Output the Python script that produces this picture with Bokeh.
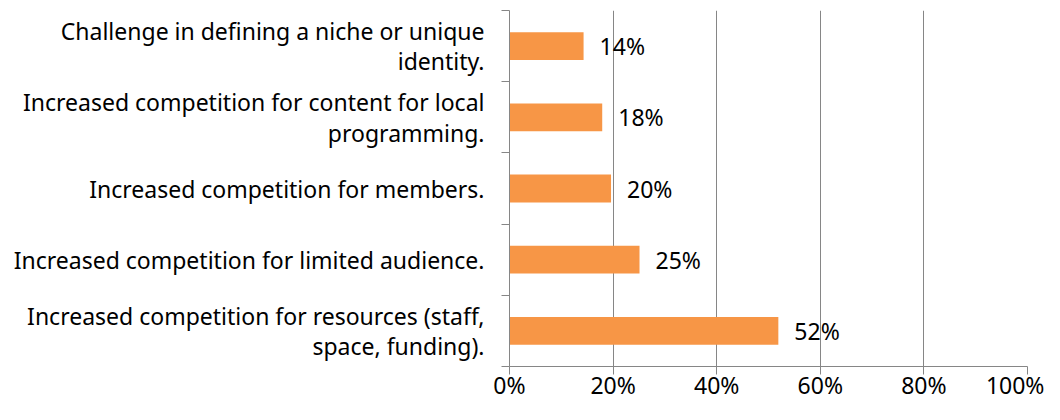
from bokeh.plotting import figure
from bokeh.models import Range1d, FixedTicker, PrintfTickFormatter, ColumnDataSource
from bokeh.core.properties import value
from bokeh.embed import file_html
from bokeh.resources import INLINE

# Data (bottom to top)
categories = [
    "Increased competition for resources (staff,\nspace, funding).",
    "Increased competition for limited audience.",
    "Increased competition for members.",
    "Increased competition for content for local\nprogramming.",
    "Challenge in defining a niche or unique\nidentity.",
]
values = [51.9, 25.1, 19.6, 17.9, 14.3]
value_labels = ["52%", "25%", "20%", "18%", "14%"]
x_ticks = [0, 20, 40, 60, 80, 100]

FONT = "Noto Sans"
GRAY = "#868686"
BAR = "#F79646"

centers = [i + 0.5 for i in range(len(categories))]
boundaries = list(range(len(categories) + 1))

src = ColumnDataSource(dict(y=centers, v=values, lab=value_labels))

p = figure(
    width=1044, height=404,
    x_range=Range1d(0, 100), y_range=Range1d(0, len(categories)),
    output_backend="svg", toolbar_location=None,
    min_border_left=509, min_border_right=17, min_border_top=10, min_border_bottom=38,
)
p.outline_line_color = None
p.background_fill_color = "white"
p.border_fill_color = "white"

p.hbar(y="y", right="v", left=0, height=0.39, source=src, fill_color=BAR, line_color=None)
p.text(x="v", y="y", text="lab", source=src, x_offset=16, text_baseline="middle",
       text_align="left", text_font=value(FONT), text_font_size="23px", text_color="black")

# x axis
xa = p.xaxis[0]
xa.ticker = FixedTicker(ticks=x_ticks, minor_ticks=[])
xa.formatter = PrintfTickFormatter(format="%d%%")
xa.axis_line_color = GRAY
xa.major_tick_line_color = GRAY
xa.major_tick_out = 8
xa.major_tick_in = 0
xa.minor_tick_line_color = None
xa.major_label_text_font = FONT
xa.major_label_text_font_size = "23px"
xa.major_label_text_color = "black"
xa.major_label_standoff = -6

# y axis
ya = p.yaxis[0]
ya.ticker = FixedTicker(ticks=centers, minor_ticks=boundaries)
ya.major_label_overrides = {c: lab for c, lab in zip(centers, categories)}
ya.axis_line_color = GRAY
ya.major_tick_line_color = None
ya.major_tick_out = 0
ya.major_tick_in = 0
ya.minor_tick_line_color = GRAY
ya.minor_tick_out = 8
ya.minor_tick_in = 0
ya.major_label_text_font = FONT
ya.major_label_text_font_size = "23px"
ya.major_label_text_color = "black"
ya.major_label_text_align = "right"
ya.major_label_text_line_height = 0.95
ya.major_label_standoff = 17

p.xgrid.ticker = FixedTicker(ticks=x_ticks)
p.xgrid.grid_line_color = GRAY
p.ygrid.grid_line_color = None

open("out.html", "w").write(file_html(p, INLINE))
